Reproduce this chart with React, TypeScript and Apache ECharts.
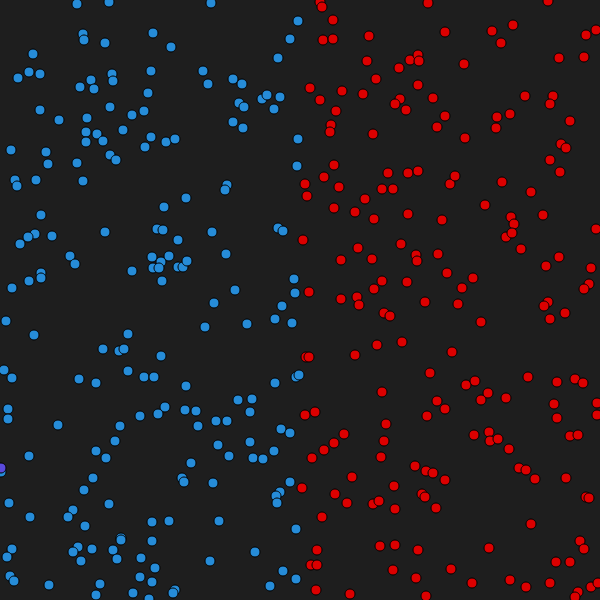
import React, { useEffect, useRef } from "react";
import * as echarts from "echarts";

// Points, [x, y] in a 0–600 domain (y grows downwards)
const bluePoints: number[][] = [
  [77,4],[109,2],[83,34],[84,40],[105,43],[153,33],[33,54],[29,72],[40,74],[18,78],[91,80],[80,87],[94,89],[112,74],[113,81],[151,71],[148,93],[110,107],[40,110],[59,120],[87,118],[132,115],[144,111],[86,132],[97,134],[86,142],[103,141],[123,130],[151,137],[145,147],[11,150],[46,152],[48,164],[77,163],[110,155],[116,160],[15,180],[17,186],[36,180],[83,181],
  [211,3],[171,47],[298,21],[290,39],[278,58],[203,71],[208,84],[233,79],[242,84],[239,103],[244,107],[262,99],[267,95],[280,97],[274,109],[233,122],[243,128],[166,142],[175,139],[298,139],[297,166],[227,185],[225,190],[186,198],
  [41,215],[35,234],[28,237],[20,244],[52,236],[105,232],[70,256],[75,264],[41,273],[41,278],[29,281],[12,288],[132,271],[152,257],[6,321],[34,335],[128,334],[103,349],[119,351],[124,349],[4,370],[12,378],[79,379],[96,383],[128,371],[144,377],
  [164,207],[157,229],[163,230],[178,240],[212,232],[278,228],[283,231],[161,262],[169,256],[153,268],[159,268],[178,267],[183,267],[187,261],[162,281],[226,254],[235,290],[214,303],[205,327],[247,324],[282,306],[294,279],[295,293],[275,319],[292,323],[161,356],[154,377],[186,386],[275,383],[296,377],[299,375],[238,400],[252,399],
  [8,409],[8,419],[58,425],[140,416],[120,426],[115,441],[96,451],[106,458],[29,456],[1,472],[93,478],[84,490],[9,503],[30,517],[73,510],[68,517],[85,526],[109,504],[152,522],[152,541],[121,538],[121,540],[113,550],[117,559],[78,547],[73,552],[81,561],[92,549],[12,549],[7,557],[141,558],[10,576],[14,581],[49,585],[100,584],[96,595],[133,593],[140,577],[152,582],[149,599],
  [165,407],[158,414],[185,410],[196,411],[198,426],[216,421],[227,421],[250,412],[281,429],[290,433],[218,445],[229,456],[250,442],[253,458],[263,459],[274,451],[191,463],[182,478],[184,482],[213,483],[290,482],[280,492],[276,496],[277,503],[169,521],[219,521],[296,529],[255,552],[210,561],[155,568],[175,590],[173,593],[283,571],[270,586],[296,579]
];

const redPoints: number[][] = [
  [320,2],[322,7],[428,3],[333,20],[323,40],[333,39],[369,36],[445,32],[367,61],[399,68],[410,60],[418,55],[419,61],[376,79],[418,85],[310,88],[320,100],[342,91],[363,94],[400,99],[395,104],[406,110],[433,98],[336,111],[445,116],[437,127],[331,125],[330,132],[373,134],[334,165],[324,177],[305,184],[339,187],[307,196],[365,199],[388,173],[408,173],[418,171],[382,189],[393,189],[450,184],
  [548,1],[492,31],[513,25],[501,43],[586,35],[596,30],[464,64],[559,58],[584,57],[525,96],[553,96],[550,104],[497,117],[510,114],[496,128],[465,138],[570,121],[561,144],[566,148],[550,160],[560,172],[455,176],[502,182],[531,192],
  [334,208],[355,212],[374,219],[408,214],[442,220],[303,240],[358,248],[341,260],[372,259],[401,244],[416,255],[417,261],[438,254],[447,273],[382,281],[374,289],[407,282],[309,292],[341,299],[357,297],[359,305],[384,313],[390,316],[425,302],[377,345],[402,342],[355,355],[306,357],[309,357],[452,352],[430,373],[382,392],[437,401],
  [485,205],[511,217],[514,224],[506,237],[512,233],[543,215],[521,249],[596,229],[473,278],[462,288],[458,304],[481,322],[559,257],[546,266],[591,268],[589,284],[584,289],[548,302],[544,306],[565,313],[550,319],[528,377],[466,385],[475,381],[488,393],[481,400],[506,398],[557,382],[575,379],[583,383],[554,404],[597,403],
  [305,415],[315,412],[445,409],[427,416],[386,424],[384,441],[344,434],[334,443],[324,450],[312,458],[381,457],[415,466],[426,471],[433,473],[445,480],[352,477],[394,486],[302,488],[335,494],[347,503],[373,504],[379,501],[395,509],[422,494],[425,497],[436,508],[322,517],[380,546],[395,545],[418,550],[317,550],[311,565],[317,565],[393,570],[416,578],[451,569],[316,590],[350,594],[426,596],
  [557,418],[597,415],[474,435],[489,432],[490,441],[498,439],[509,449],[570,436],[578,435],[519,468],[526,470],[535,479],[566,478],[586,497],[589,498],[531,524],[489,548],[580,541],[584,549],[556,562],[570,562],[472,583],[510,580],[526,587],[550,583],[578,592],[575,597],[591,587],[598,583]
];

const purplePoints: number[][] = [[1,468]];

export default function App() {
  const ref = useRef<HTMLDivElement>(null);
  useEffect(() => {
    if (!ref.current) return;
    const chart = echarts.init(ref.current, null, { renderer: "svg" });
    const mk = (name: string, data: number[][], color: string) => ({
      name,
      type: "scatter",
      data,
      symbol: "circle",
      symbolSize: 10,
      itemStyle: { color, borderColor: "#000", borderWidth: 1, opacity: 1 },
    });
    chart.setOption({
      animation: false,
      backgroundColor: "#1e1e1e",
      grid: { left: 0, right: 0, top: 0, bottom: 0 },
      xAxis: { type: "value", min: 0, max: 600, show: false },
      yAxis: { type: "value", min: 0, max: 600, inverse: true, show: false },
      series: [
        mk("blue", bluePoints, "#268cd8"),
        mk("red", redPoints, "#dc0000"),
        mk("purple", purplePoints, "#5a4adc"),
      ],
    });
    return () => chart.dispose();
  }, []);
  return (
    <div
      ref={ref}
      style={{ position: "fixed", left: 0, top: 0, width: 600, height: 600 }}
    />
  );
}
